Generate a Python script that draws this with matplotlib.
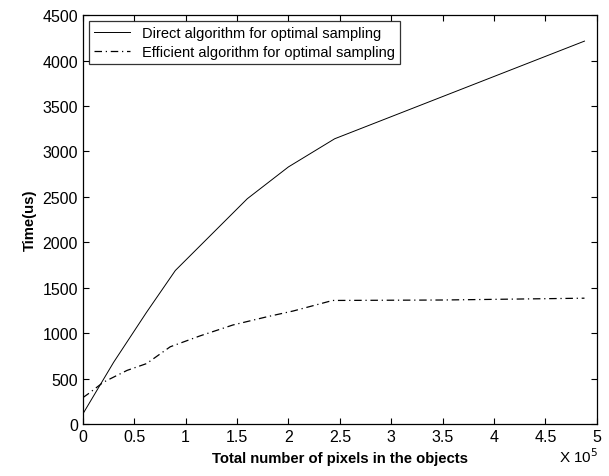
import matplotlib
matplotlib.use("Agg")
import matplotlib.pyplot as plt

plt.rcParams['font.family'] = ['Liberation Sans', 'DejaVu Sans']

# x in units of 1e5 pixels, time in us
x_direct = [0, 0.3, 0.62, 0.9, 1.6, 2.0, 2.45, 4.88]
t_direct = [110, 680, 1230, 1690, 2480, 2830, 3140, 4215]

x_eff = [0, 0.05, 0.2, 0.43, 0.62, 0.85, 1.14, 1.46, 1.79, 2.05, 2.43, 3.5, 4.88]
t_eff = [290, 330, 460, 590, 665, 850, 970, 1090, 1180, 1245, 1360, 1365, 1385]

fig = plt.figure(figsize=(6.09, 4.77), dpi=100)
ax = fig.add_axes([0.136, 0.109, 0.844, 0.857])

ax.plot(x_direct, t_direct, color='black', lw=0.7, label='Direct algorithm for optimal sampling')
ax.plot(x_eff, t_eff, color='black', lw=0.9, linestyle=(0, (6, 3, 1, 3)),
        label='Efficient algorithm for optimal sampling')

ax.set_xlim(0, 5)
ax.set_ylim(0, 4500)
ax.set_xticks([0, 0.5, 1, 1.5, 2, 2.5, 3, 3.5, 4, 4.5, 5])
ax.set_xticklabels(['0', '0.5', '1', '1.5', '2', '2.5', '3', '3.5', '4', '4.5', '5'])
ax.set_yticks(range(0, 4501, 500))
ax.tick_params(direction='in', top=True, right=True, labelsize=11.5, length=4, width=0.8)
for s in ax.spines.values():
    s.set_linewidth(0.9)

ax.set_xlabel('Total number of pixels in the objects', fontsize=10.7, fontweight='bold', labelpad=5)
ax.set_ylabel('Time(us)', fontsize=10.7, fontweight='bold')

leg = ax.legend(loc='upper left', fontsize=10.5, frameon=True, fancybox=False,
                edgecolor='black', borderpad=0.35, handlelength=2.5, labelspacing=0.35,
                borderaxespad=0.4)
leg.get_frame().set_linewidth(0.9)

fig.text(0.918, 0.03, r'X 10$^5$', fontsize=11)

fig.savefig('out.png', dpi=100)
